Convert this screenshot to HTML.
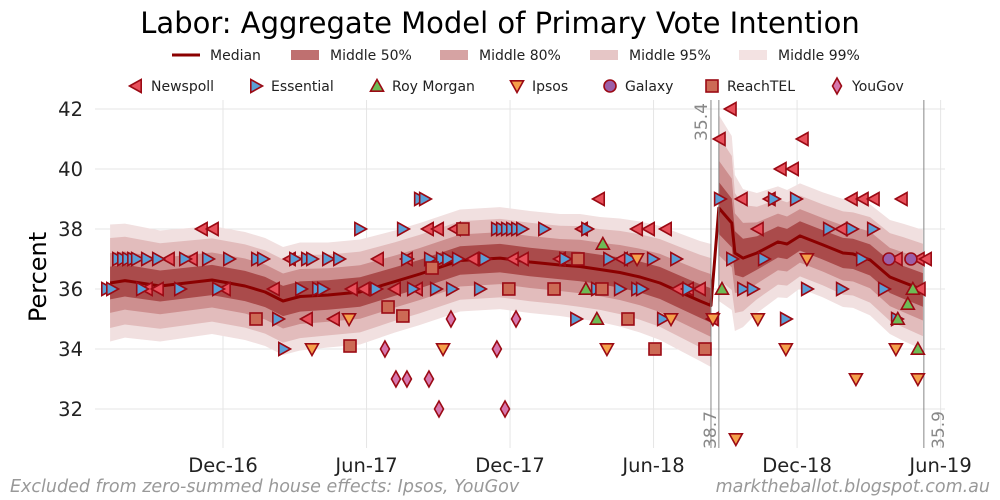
<!DOCTYPE html>
<html><head><meta charset="utf-8"><style>
html,body{margin:0;padding:0;background:#fff;}
svg{display:block;font-family:"DejaVu Sans","Liberation Sans",sans-serif;}
</style></head><body>
<svg id="chart" width="1000" height="500" viewBox="0 0 1000 500" xmlns="http://www.w3.org/2000/svg">
<text x="500" y="33" text-anchor="middle" font-size="29" fill="#000">Labor: Aggregate Model of Primary Vote Intention</text>
<g id="grid"></g>
<g id="bands"></g>
<g id="medianG"></g>
<g id="vlines"></g>
<g id="polls"></g>
<g id="axes"></g>
<text transform="translate(46,277) rotate(-90)" text-anchor="middle" font-size="24" fill="#000">Percent</text>
<g id="legend1"></g>
<g id="legend2"></g>
<text x="10" y="492" font-size="17.5" font-style="italic" fill="#999">Excluded from zero-summed house effects: Ipsos, YouGov</text>
<text x="990" y="492" text-anchor="end" font-size="17.5" font-style="italic" fill="#999">marktheballot.blogspot.com.au</text>
</svg>
<script>
// time unit: months since 1 Dec 2016
const xTickMonths = [0, 6, 12, 18, 24, 30];
const xTickLabels = ["Dec-16", "Jun-17", "Dec-17", "Jun-18", "Dec-18", "Jun-19"];
const yTicks = [32, 34, 36, 38, 40, 42];
// median segment 1
const seg1T = [-4.72,-4.10,-2.63,-0.46,0.92,1.76,2.51,3.22,4.39,5.73,7.19,8.23,9.91,11.58,12.83,14.09,14.92,15.76,16.59,17.43,18.27,19.10,19.94,20.40];
const seg1V = [36.2,36.28,36.1,36.3,36.1,35.9,35.6,35.75,35.8,35.9,36.25,36.5,36.95,37.03,36.9,36.8,36.75,36.65,36.55,36.4,36.2,35.9,35.6,35.45];
const seg1W = [1.95,1.9,1.85,1.8,1.8,1.8,1.8,1.8,1.75,1.75,1.7,1.7,1.7,1.7,1.7,1.7,1.75,1.75,1.8,1.85,1.9,1.95,2.0,2.05];
// median segment 2
const seg2T = [20.73,21.27,21.40,21.74,22.32,23.20,23.58,24.12,25.08,25.92,26.34,27.05,27.88,28.42,29.26];
const seg2V = [38.7,38.2,37.2,37.03,37.2,37.57,37.5,37.77,37.47,37.2,37.17,36.97,36.4,36.23,35.97];
const seg2W = [3.1,2.9,2.6,2.3,2.0,1.85,1.8,1.75,1.75,1.8,1.8,1.85,1.9,1.95,2.0];
const bandFrac = [1.0, 0.77, 0.51, 0.28];
const bandColors = ["#f1e0e0", "#e2bcbc", "#cd8f8f", "#aa4b4b"];
const breaks = [20.40, 20.73, 29.30];
const breakLabels = ["35.4", "38.7", "35.9"];
// polls
const newspollT = [-0.88,-0.42,-2.26,-1.30,-3.18,-2.72,0.08,2.13,3.51,4.64,2.80,5.39,5.89,6.48,7.19,7.69,8.11,8.57,8.99,9.70,10.45,12.12,12.54,14.09,15.01,15.72,16.68,17.31,17.81,18.52,19.02,19.44,19.94,20.48,20.77,21.23,21.69,22.36,22.86,23.32,23.83,24.24,25.87,26.29,26.75,27.21,28.17,28.38,29.09,29.39,29.13];
const newspollV = [38,38,37,37,36,36,36,36,35,35,37,36,36,37,36,37,36,38,38,38,37,37,37,37,38,39,37,38,38,38,36,36,36,35,41,42,39,38,39,40,40,41,38,39,39,39,37,39,37,37,36];
const essentialT = [-4.85,-4.64,-4.39,-4.18,-3.97,-3.76,-3.60,-3.39,-3.18,-2.72,-1.80,-1.59,-0.63,-0.21,0.25,1.42,1.67,2.30,2.55,3.01,3.26,3.51,3.72,3.97,4.18,4.39,4.85,5.73,6.40,7.52,7.69,7.94,8.23,8.44,8.65,8.90,9.15,9.41,9.57,9.82,10.74,10.95,11.45,11.66,11.87,12.08,12.29,12.50,13.42,14.30,14.76,15.22,15.63,16.14,16.59,17.01,17.31,17.51,17.97,18.39,18.94,19.44,20.77,21.28,21.74,22.15,22.61,23.03,23.53,23.95,24.41,25.33,25.87,26.29,26.71,27.17,27.63,28.17];
const essentialV = [36,36,37,37,37,37,37,36,37,37,36,37,37,36,37,37,37,35,34,37,36,37,37,36,36,37,37,38,36,38,37,36,39,39,37,36,37,37,36,37,36,37,38,38,38,38,38,38,38,37,35,38,36,37,36,37,36,36,37,35,37,36,39,37,36,36,37,39,35,39,36,38,36,38,37,38,36,35];
const roymorganT = [15.17,15.88,15.63,20.86,28.21,28.63,28.84,29.05];
const roymorganV = [36,37.5,35,36,35,35.5,36,34];
const ipsosT = [3.72,5.27,9.20,16.05,17.31,18.73,20.48,21.44,22.36,23.53,24.41,26.46,28.13,29.05];
const ipsosV = [34,35,34,34,37,35,35,31,35,34,37,33,34,33];
const galaxyT = [27.84,28.76];
const galaxyV = [37,37];
const reachtelT = [1.38,5.31,6.90,7.52,8.74,10.03,11.95,13.84,14.84,15.84,16.93,18.06,20.15];
const reachtelV = [35,34.1,35.4,35.1,36.7,38,36,36,37,36,35,34,34];
const yougovT = [6.77,7.23,7.69,8.61,9.03,9.53,11.45,11.79,12.25];
const yougovV = [34,33,33,33,32,35,34,32,35];

const NS = "http://www.w3.org/2000/svg";
const X0 = 95, X1 = 945, Y0 = 100, Y1 = 448;
const xs = t => 223 + t * 23.92;
const ys = v => 409 - (v - 32) * 30;
function mk(tag, attrs, parent) {
  const e = document.createElementNS(NS, tag);
  for (const k in attrs) e.setAttribute(k, attrs[k]);
  parent.appendChild(e);
  return e;
}
const grid = document.getElementById('grid');
yTicks.forEach(v => {
  const l = mk('line', {x1: X0, x2: X1, y1: ys(v), y2: ys(v), stroke: '#e5e5e5', 'stroke-width': 1}, grid);
  
  
});
xTickMonths.forEach(m => {
  const l = mk('line', {x1: xs(m), x2: xs(m), y1: Y0, y2: Y1, stroke: '#e5e5e5', 'stroke-width': 1}, grid);
  
  
});
const axes = document.getElementById('axes');
yTicks.forEach(v => {
  const t = mk('text', {x: 83, y: ys(v) + 7, 'text-anchor': 'end', 'font-size': 19.5, fill: '#222'}, axes);
  t.textContent = v;
  
  
});
xTickMonths.forEach((m, i) => {
  const t = mk('text', {x: xs(m), y: 472, 'text-anchor': 'middle', 'font-size': 19.5, fill: '#222'}, axes);
  t.textContent = xTickLabels[i];
  
  
});
const bands = document.getElementById('bands');
function drawBands(T, V, W) {
  bandFrac.forEach((f, bi) => {
    let up = T.map((t, i) => xs(t) + ',' + ys(V[i] + W[i] * f));
    let dn = T.map((t, i) => xs(t) + ',' + ys(V[i] - W[i] * f)).reverse();
    const p = mk('polygon', {points: up.concat(dn).join(' '), fill: bandColors[bi]}, bands);
    
    
  });
}
drawBands(seg1T, seg1V, seg1W);
drawBands(seg2T, seg2V, seg2W);
const med = document.getElementById('medianG');
const mpts = seg1T.map((t, i) => xs(t) + ',' + ys(seg1V[i])).concat(seg2T.map((t, i) => xs(t) + ',' + ys(seg2V[i])));
const ml = mk('polyline', {points: mpts.join(' '), fill: 'none', stroke: '#8b0000', 'stroke-width': 3, 'stroke-linejoin': 'round'}, med);


const vl = document.getElementById('vlines');
breaks.forEach((b, i) => {
  const l = mk('line', {x1: xs(b), x2: xs(b), y1: Y0, y2: Y1, stroke: '#888', 'stroke-width': 1}, vl);
  
  
  const ty = i === 0 ? 122 : 430;
  const lx = i === 0 ? xs(b) - 4 : (i === 2 ? xs(b) + 20 : xs(b) - 3);
  const t = mk('text', {transform: 'translate(' + lx + ',' + ty + ') rotate(-90)', 'text-anchor': 'middle', 'font-size': 17, fill: '#888'}, vl);
  t.textContent = breakLabels[i];
  
  
});
const EDGE = '#9b0a14';
function shape(kind, x, y, fill, parent) {
  const s = 6.5;
  let e;
  if (kind === 'left') e = mk('polygon', {points: `${x-s},${y} ${x+s*0.8},${y-s} ${x+s*0.8},${y+s}`}, parent);
  else if (kind === 'right') e = mk('polygon', {points: `${x+s},${y} ${x-s*0.8},${y-s} ${x-s*0.8},${y+s}`}, parent);
  else if (kind === 'up') e = mk('polygon', {points: `${x},${y-s} ${x-s},${y+s*0.8} ${x+s},${y+s*0.8}`}, parent);
  else if (kind === 'down') e = mk('polygon', {points: `${x},${y+s} ${x-s},${y-s*0.8} ${x+s},${y-s*0.8}`}, parent);
  else if (kind === 'circle') e = mk('circle', {cx: x, cy: y, r: 6}, parent);
  else if (kind === 'square') e = mk('rect', {x: x-6, y: y-6, width: 12, height: 12}, parent);
  else e = mk('polygon', {points: `${x},${y-8} ${x+4.5},${y} ${x},${y+8} ${x-4.5},${y}`}, parent);
  e.setAttribute('fill', fill);
  e.setAttribute('stroke', EDGE);
  e.setAttribute('stroke-width', 1.6);
  return e;
}
const pollsters = [
  {name: 'Newspoll', kind: 'left', fill: '#e8505b', T: newspollT, V: newspollV, lx: 136},
  {name: 'Essential', kind: 'right', fill: '#5a9fd6', T: essentialT, V: essentialV, lx: 256},
  {name: 'Roy Morgan', kind: 'up', fill: '#6dbb55', T: roymorganT, V: roymorganV, lx: 377},
  {name: 'Ipsos', kind: 'down', fill: '#f5a04a', T: ipsosT, V: ipsosV, lx: 517},
  {name: 'Galaxy', kind: 'circle', fill: '#9b5fa8', T: galaxyT, V: galaxyV, lx: 610},
  {name: 'ReachTEL', kind: 'square', fill: '#cc6a55', T: reachtelT, V: reachtelV, lx: 712},
  {name: 'YouGov', kind: 'diamond', fill: '#d677ad', T: yougovT, V: yougovV, lx: 837}
];
const pg = document.getElementById('polls');
pollsters.forEach(p => {
  p.T.forEach((t, i) => {
    const e = shape(p.kind, xs(t), ys(p.V[i]), p.fill, pg);
    
    
  });
});
const lg1 = document.getElementById('legend1');
const ml1 = mk('line', {x1: 172, x2: 200, y1: 55, y2: 55, stroke: '#8b0000', 'stroke-width': 3}, lg1);


const lt1 = mk('text', {x: 210, y: 60, 'font-size': 14, fill: '#222'}, lg1);
lt1.textContent = 'Median';


const bandLeg = [['Middle 50%', 291, '#bf7070'], ['Middle 80%', 440, '#d6a3a3'], ['Middle 95%', 590, '#e6c6c6'], ['Middle 99%', 739, '#f3e2e2']];
bandLeg.forEach(b => {
  const r = mk('rect', {x: b[1], y: 50, width: 28, height: 10, fill: b[2]}, lg1);
  
  
  const t = mk('text', {x: b[1] + 39, y: 60, 'font-size': 14, fill: '#222'}, lg1);
  t.textContent = b[0];
  
  
});
const lg2 = document.getElementById('legend2');
pollsters.forEach(p => {
  const e = shape(p.kind, p.lx, 86, p.fill, lg2);
  
  
  const t = mk('text', {x: p.lx + 15, y: 91, 'font-size': 14, fill: '#222'}, lg2);
  t.textContent = p.name;
  
  
});
</script>
</body></html>
